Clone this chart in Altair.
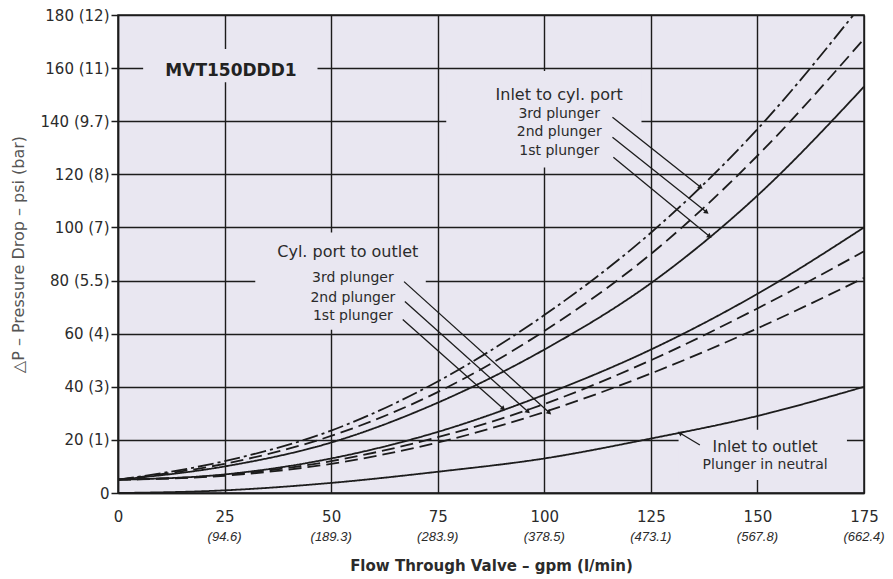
import altair as alt
import pandas as pd

# ---------------- data ----------------
flow = [0, 25, 50, 75, 100, 125, 150, 175]

inlet_cyl_1st = [5, 10, 19, 34, 54, 79, 112, 153]
inlet_cyl_2nd = [5, 11, 21.5, 38, 61, 90, 127, 171]
inlet_cyl_3rd = [5, 12, 23.5, 42, 67, 98, 137, 185]
cyl_out_1st = [5, 7, 13, 23, 37, 54, 75, 100]
cyl_out_2nd = [5, 6.8, 12, 21, 33.5, 50, 69.5, 91]
cyl_out_3rd = [5, 6.5, 11, 19, 30.5, 45, 62, 81]
inlet_out = [0, 1, 3.8, 8, 13, 20.5, 29, 40]

series_names = ["Inlet to cyl. port 1st", "Inlet to cyl. port 2nd", "Inlet to cyl. port 3rd",
                "Cyl. port to outlet 1st", "Cyl. port to outlet 2nd", "Cyl. port to outlet 3rd",
                "Inlet to outlet"]
series_values = [inlet_cyl_1st, inlet_cyl_2nd, inlet_cyl_3rd,
                 cyl_out_1st, cyl_out_2nd, cyl_out_3rd, inlet_out]
series_styles = ["solid", "dashed", "dashdot", "solid", "dashed", "dashed", "solid"]

y_ticks = [0, 20, 40, 60, 80, 100, 120, 140, 160, 180]
y_tick_labels = ["0", "20 (1)", "40 (3)", "60 (4)", "80 (5.5)", "100 (7)",
                 "120 (8)", "140 (9.7)", "160 (11)", "180 (12)"]
x_ticks = [0, 25, 50, 75, 100, 125, 150, 175]
x_lmin_labels = ["", "(94.6)", "(189.3)", "(283.9)", "(378.5)", "(473.1)", "(567.8)", "(662.4)"]

# annotation texts (data coordinates)
ann_text = ["Inlet to cyl. port", "3rd plunger", "2nd plunger", "1st plunger",
            "Cyl. port to outlet", "3rd plunger", "2nd plunger", "1st plunger",
            "Inlet to outlet", "Plunger in neutral"]
ann_x = [103.5, 103.5, 103.5, 103.5, 53.9, 55.1, 55.1, 55.1, 151.8, 151.8]
ann_y = [149.8, 142.6, 135.8, 128.7, 90.9, 80.8, 73.6, 66.8, 17.4, 10.6]
ann_size = [16, 14, 14, 14, 16, 14, 14, 14, 15.5, 14]

model_text = ["MVT150DDD1"]
model_x = [11.1]
model_y = [158.9]

# knock-out boxes behind the labels (data coordinates)
ko_x = [5.9, 77, 32.2, 131.5]
ko_x2 = [46.8, 122.8, 72.2, 171]
ko_y = [154.7, 122.6, 61.5, 4.9]
ko_y2 = [167.2, 158.9, 98.1, 23.8]

# leader lines: start (label side) -> end (curve side)
ld_x = [116.0, 116.0, 116.2, 67.1, 67.3, 66.8, 136.5]
ld_y = [141.5, 134.0, 126.4, 79.6, 72.1, 65.3, 18.1]
ld_x2 = [136.7, 138.1, 138.8, 101.2, 96.2, 90.4, 131.8]
ld_y2 = [115.1, 105.7, 96.6, 30.2, 30.6, 31.7, 22.6]
ld_angle = [128, 128, 128, 132, 132, 132, 301]

# ---------------- build tables ----------------
rows = []
for name, vals, style in zip(series_names, series_values, series_styles):
    for f, v in zip(flow, vals):
        rows.append({"flow": f, "dp": v, "series": name, "style": style})
df_lines = pd.DataFrame(rows)

df_ann = pd.DataFrame({"flow": ann_x, "dp": ann_y, "text": ann_text, "size": ann_size})
df_model = pd.DataFrame({"flow": model_x, "dp": model_y, "text": model_text})
df_ko = pd.DataFrame({"flow": ko_x, "flow2": ko_x2, "dp": ko_y, "dp2": ko_y2})
df_ld = pd.DataFrame({"flow": ld_x, "dp": ld_y, "flow2": ld_x2, "dp2": ld_y2, "angle": ld_angle})
df_xl = pd.DataFrame({"flow": x_ticks, "text": x_lmin_labels})

BG = "#e9e7f1"
INK = "#1c1c1c"
TXT = "#2b2b2b"
FONT = "DejaVu Sans"

label_expr = "[" + ",".join("'%s'" % s for s in y_tick_labels) + "][round(datum.value / 20)]"

x_enc = alt.X("flow:Q",
              scale=alt.Scale(domain=[0, 175], nice=False, zero=False),
              axis=alt.Axis(values=x_ticks, format="d", grid=True, ticks=False,
                            labelFlush=False, labelPadding=16, labelFontSize=15,
                            labelFont=FONT, labelColor=TXT,
                            title="Flow Through Valve – gpm (l/min)",
                            titleFont=FONT, titleFontSize=15, titleFontWeight="bold",
                            titleColor=TXT, titlePadding=34))
y_enc = alt.Y("dp:Q",
              scale=alt.Scale(domain=[0, 180], nice=False),
              axis=alt.Axis(values=y_ticks, labelExpr=label_expr, grid=True, ticks=True,
                            tickSize=7, labelPadding=2, labelFontSize=15, labelFont=FONT,
                            labelColor=TXT,
                            title="△P – Pressure Drop – psi (bar)", titleFont=FONT,
                            titleFontSize=16, titleFontWeight="normal", titleColor="#555555",
                            titlePadding=14))

lines = alt.Chart(df_lines).mark_line(clip=True, strokeWidth=1.8, color=INK,
                                      interpolate="monotone").encode(
    x=x_enc, y=y_enc, detail="series:N",
    strokeDash=alt.StrokeDash("style:N",
                              scale=alt.Scale(domain=["solid", "dashed", "dashdot"],
                                              range=[[1, 0], [13, 6], [16, 4, 3, 4]]),
                              legend=None))

ko = alt.Chart(df_ko).mark_rect(color=BG).encode(
    x="flow:Q", x2="flow2:Q", y="dp:Q", y2="dp2:Q")

leaders = alt.Chart(df_ld).mark_rule(color=INK, strokeWidth=1.3).encode(
    x="flow:Q", x2="flow2:Q", y="dp:Q", y2="dp2:Q")

heads = alt.Chart(df_ld).mark_point(shape="triangle-up", filled=True, size=30,
                                    color=INK, opacity=1).encode(
    x="flow2:Q", y="dp2:Q", angle=alt.Angle("angle:Q", scale=None))

ann = alt.Chart(df_ann).mark_text(font=FONT, color=TXT, align="center",
                                  baseline="middle").encode(
    x="flow:Q", y="dp:Q", text="text:N", size=alt.Size("size:Q", scale=None, legend=None))

model = alt.Chart(df_model).mark_text(font=FONT, fontSize=17, fontWeight="bold",
                                      color="#222222", align="left",
                                      baseline="middle").encode(
    x="flow:Q", y="dp:Q", text="text:N")

xl = alt.Chart(df_xl).mark_text(font="Liberation Sans", fontStyle="italic", fontSize=13,
                                color=TXT, baseline="middle").encode(
    x="flow:Q", y=alt.value(522), text="text:N")

# lines drawn on top of knockout boxes
chart = alt.layer(ko, lines, leaders, heads, ann, model, xl).properties(
    width=746, height=478,
    padding={"left": 110, "top": 7, "right": 21, "bottom": 83},
    autosize=alt.AutoSizeParams(type="none"),
    background="white",
).configure_view(
    fill=BG, stroke=INK, strokeWidth=1.5
).configure_axis(
    gridColor=INK, gridWidth=1.4, gridOpacity=1,
    domainColor=INK, domainWidth=1.5, tickColor=INK, tickWidth=1.5
)

chart.save("out.html", embed_options={"renderer": "svg", "actions": False})
